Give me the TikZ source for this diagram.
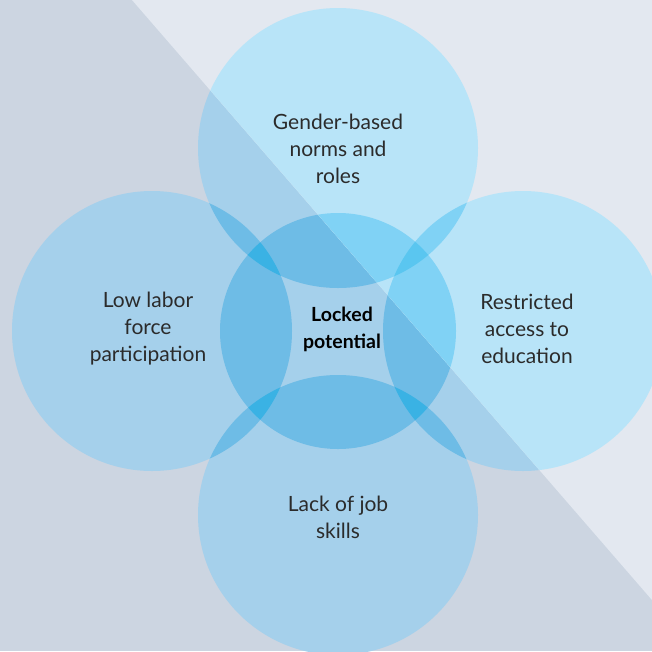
\documentclass[tikz,border=0pt]{standalone}
\usepackage{fontspec}
\setmainfont{Lato}
\definecolor{bgdark}{HTML}{CCD5E1}
\definecolor{bglight}{HTML}{E3E8F0}
\definecolor{dsingle}{HTML}{A5D0EB}
\definecolor{ddouble}{HTML}{6EBCE6}
\definecolor{dtriple}{HTML}{3AB2E4}
\definecolor{lsingle}{HTML}{B8E4F8}
\definecolor{ldouble}{HTML}{80D2F5}
\definecolor{ltriple}{HTML}{5AC6F0}
\definecolor{txt}{HTML}{2B2B2B}
\def\CirT{(338,148) circle (140)}
\def\CirL{(152,331) circle (140)}
\def\CirR{(523,331) circle (140)}
\def\CirB{(338,515) circle (140)}
\def\CirC{(338,331) circle (118)}
\newcommand\drawlayer[3]{%
  \fill[#1] \CirT \CirL \CirR \CirB \CirC;
  \begin{scope}\clip \CirC; \fill[#2] \CirT \CirL \CirR \CirB;\end{scope}
  \begin{scope}\clip \CirT; \fill[#2] \CirL \CirR;\end{scope}
  \begin{scope}\clip \CirB; \fill[#2] \CirL \CirR;\end{scope}
  \begin{scope}\clip \CirC; \clip \CirT; \fill[#3] \CirL \CirR;\end{scope}
  \begin{scope}\clip \CirC; \clip \CirB; \fill[#3] \CirL \CirR;\end{scope}
}
\tikzset{
  label text/.style={text=txt, align=center, font=\fontsize{21}{27}\selectfont},
  core text/.style={text=black, align=center, font=\bfseries\fontsize{19.5}{27}\selectfont}
}
\begin{document}
\begin{tikzpicture}[x=1pt,y=-1pt]
\useasboundingbox (0,0) rectangle (652,651);
\fill[bgdark] (0,0) rectangle (652,651);
\begin{scope}
  \clip (0,0) rectangle (652,651);
  \drawlayer{dsingle}{ddouble}{dtriple}
\end{scope}
\begin{scope}
  \clip (132,0) -- (652,0) -- (652,600) -- cycle;
  \fill[bglight] (0,0) rectangle (652,651);
  \drawlayer{lsingle}{ldouble}{ltriple}
\end{scope}
\node[label text] (top) at (338,149) {Gender-based\\norms and\\roles};
\node[label text] (left) at (148,329) {Low labor\\force\\participation};
\node[label text] (right) at (527,329) {Restricted\\access to\\education};
\node[label text] (bottom) at (338,517) {Lack of job\\skills};
\node[core text] (core) at (342,329) {Locked\\potential};
\end{tikzpicture}
\end{document}
